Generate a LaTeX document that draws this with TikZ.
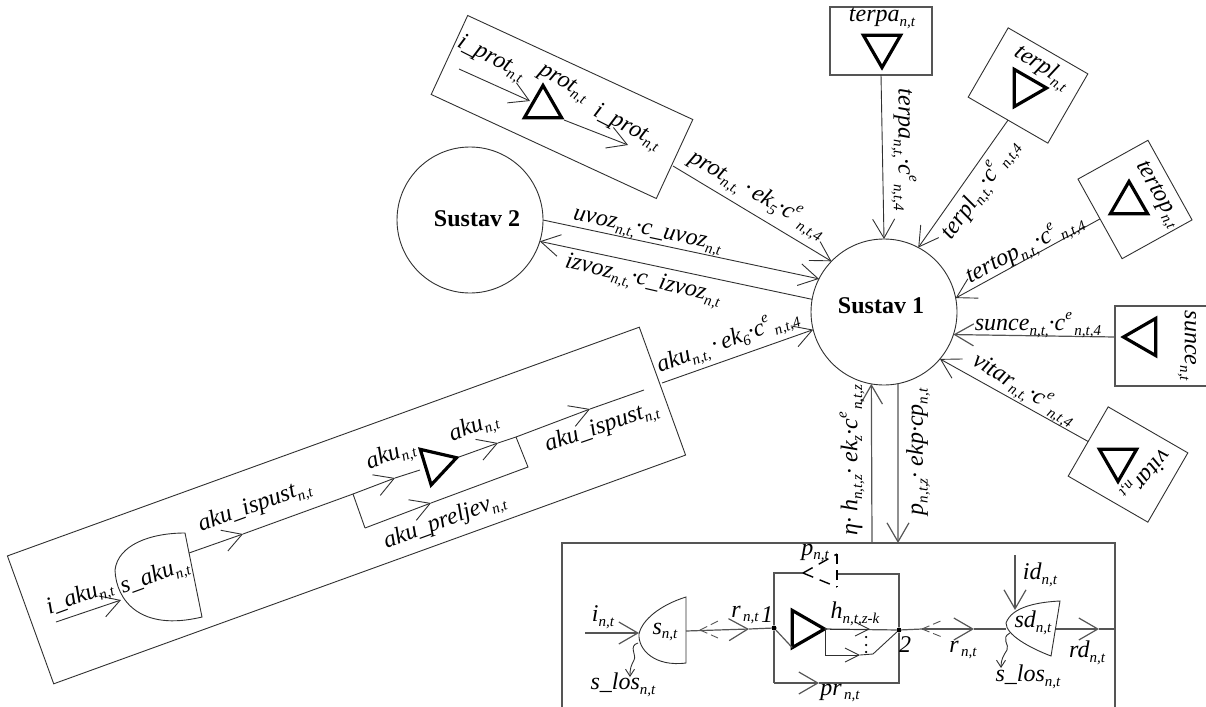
\documentclass[tikz,border=0pt]{standalone}
\usepackage{fontspec}
\setmainfont{Liberation Serif}
\usetikzlibrary{arrows.meta,shapes.geometric}
\newcommand{\sbfont}{\fontsize{15}{15}\selectfont}
\newcommand{\sbx}[1]{\raisebox{-.2em}{\sbfont #1}}
\newcommand{\spx}[1]{\raisebox{.45em}{\sbfont #1}}
\definecolor{ink}{HTML}{303030}
\definecolor{inkg}{HTML}{555555}
\tikzset{
  wire/.style={draw=ink,line width=0.9pt},
  gwire/.style={draw=inkg,line width=1.2pt},
  arr/.style={wire,-{Straight Barb[length=19pt,width=22pt]}},
  garr/.style={gwire,-{Straight Barb[length=19pt,width=22pt]}},
  marr/.style={wire,-{Straight Barb[length=14pt,width=14pt]}},
  sarr/.style={wire,-{Straight Barb[length=7pt,width=9pt]}},
  ddash/.style={draw=inkg,line width=0.9pt,dash pattern=on 8pt off 4pt},
  lab/.style={font=\fontsize{24}{26}\selectfont\itshape,inner sep=0pt,text=black},
  num/.style={font=\fontsize{24}{26}\selectfont\itshape,inner sep=0pt},
  big/.style={font=\fontsize{24}{26}\selectfont\bfseries,inner sep=0pt},
  tri/.style={regular polygon,regular polygon sides=3,draw=black,line width=3.2pt,minimum size=43pt,inner sep=0pt,outer sep=0pt},
  bx/.style={rectangle,draw=ink,line width=0.9pt,inner sep=0pt,outer sep=0pt},
  gbx/.style={rectangle,draw=inkg,line width=1.2pt,inner sep=0pt,outer sep=0pt},
  circ/.style={circle,draw=ink,line width=0.9pt,minimum size=146pt,inner sep=0pt,outer sep=0pt},
  dotn/.style={circle,fill=black,minimum size=5pt,inner sep=0pt},
}
\begin{document}
\begin{tikzpicture}[x=1pt,y=-1pt]
\useasboundingbox (0,0) rectangle (1206,706);
\clip (0,0) rectangle (1206,706);

% systems
\node[circ] (s1) at (884,312) {};
\node[circ] (s2) at (470,220) {};
\node[big] (s1t) at (881,306) {Sustav 1};
\node[big] (s2t) at (477,219) {Sustav 2};

% boxes
\node[bx,minimum width=248pt,minimum height=87pt,rotate=-24.8] (bprot) at (562,107) {};
\node[gbx,minimum width=102pt,minimum height=68pt] (bterpa) at (881,41) {};
\node[bx,minimum width=92pt,minimum height=80pt,rotate=-30] (bterpl) at (1028,85.5) {};
\node[bx,minimum width=80pt,minimum height=91pt,rotate=29] (btert) at (1135,199.5) {};
\node[gbx,minimum width=110pt,minimum height=80pt] (bsun) at (1170,346) {};
\node[bx,minimum width=92pt,minimum height=80pt,rotate=-30] (bvit) at (1128,464.5) {};
\node[bx,minimum width=672pt,minimum height=136pt,rotate=19.9] (baku) at (346.5,505.5) {};
\node[gbx,minimum width=553pt,minimum height=190pt] (bhe) at (838.5,638) {};

% triangles
\node[tri] (tprot) at (543,107) {};
\node[tri,rotate=180] (tterpa) at (882,46) {};
\node[tri,rotate=-90] (tterpl) at (1025,88) {};
\node[tri] (ttert) at (1129,203) {};
\node[tri,rotate=90] (tsun) at (1145,337) {};
\node[tri,rotate=180] (tvit) at (1118,460) {};
\node[tri,rotate=-73] (taku) at (436,464) {};
\node[tri,rotate=-90] (the) at (803,629) {};

% connectors to Sustav 1
\coordinate (pout) at (673,166);
\draw[arr] (pout) -- (s1.136);
\draw[arr] (bterpa.south) -- (s1.90);
\draw[arr] (bterpl.south) -- (s1.62);
\draw[arr] (btert.west) -- (s1.11);
\coordinate (sout) at (1115,337);
\draw[garr] (sout) -- (s1.-18.7);
\draw[arr] (bvit.west) -- (s1.-40.5);
\draw[arr] (s2.0) -- (s1.153);
\draw[arr] (s1.170.5) -- (s2.-17.4);
\coordinate (aout) at (662,383);
\draw[arr] (aout) -- (s1.194);
\coordinate (hup) at (872,543);
\coordinate (pdn) at (898,543);
\draw[garr] (hup) -- (s1.260.5);
\draw[garr] (s1.281) -- (pdn);

% connector labels
\node[lab,rotate=-30] (lprot) at (757,195) {prot\sbx{n,t,}\,·\,ek\sbx{5}·c\spx{e}\sbx{\,n,t,4}};
\node[lab,rotate=-90] (lterpa) at (904,150) {terpa\sbx{n,t,}·c\spx{e}\sbx{\,n,t,4}};
\node[lab,rotate=55] (lterpl) at (981,190) {terpl\sbx{n,t,}·c\spx{e}\sbx{\,n,t,4}};
\node[lab,rotate=27] (ltert) at (1025,249) {tertop\sbx{n,t,}·c\spx{e}\sbx{\,n,t,4}};
\node[lab] (lsun) at (1038,325) {sunce\sbx{n,t,}·c\spx{e}\sbx{\,n,t,4}};
\node[lab,rotate=-31] (lvit) at (1024,390) {vitar\sbx{n,t,}·c\spx{e}\sbx{\,n,t,4}};
\node[lab,rotate=-12] (luv) at (647,233) {uvoz\sbx{n,t,}·c\_uvoz\sbx{n,t}};
\node[lab,rotate=-13] (liz) at (643,281) {izvoz\sbx{n,t,}·c\_izvoz\sbx{n,t}};
\node[lab,rotate=20] (lak) at (728,342) {aku\sbx{n,t,}\,·\,ek\sbx{6}·c\spx{e}\sbx{\,n,t,4}};
\node[lab,rotate=90] (leta) at (852,460) {η· h\sbx{n,t,z}· ek\sbx{z}·c\spx{e}\sbx{\,n,t,z}};
\node[lab,rotate=90] (lpz) at (918,452) {p\sbx{n,t,z}· ekp·cp\sbx{n,t}};

% texts in boxes
\node[lab,rotate=-27] (a1) at (491,59) {i\_prot\sbx{n,t}};
\node[lab,rotate=-30] (a2) at (563,84) {prot\sbx{n,t}};
\node[lab,rotate=-27] (a3) at (627,128) {i\_prot\sbx{n,t}};
\node[lab] (a4) at (882,18) {terpa\sbx{n,t}};
\node[lab,rotate=-33] (a5) at (1042,68) {terpl\sbx{n,t}};
\node[lab,rotate=-60] (a6) at (1157,195) {tertop\sbx{n,t}};
\node[lab,rotate=-90] (a7) at (1187,346) {sunce\sbx{n,t}};
\node[lab,rotate=230] (a8) at (1145,474) {vitar\sbx{n,t}};

% prot flows
\coordinate (pin) at (459,69);
\coordinate (pinT) at (530,101);
\coordinate (poutA) at (564,120);
\coordinate (poutT) at (628,145);
\draw[arr] (pin) -- (pinT);
\draw[arr] (poutA) -- (poutT);

% aku block
\coordinate (ai) at (56,622);
\coordinate (aiT) at (121,600);
\draw[arr] (ai) -- (aiT);
\draw[wire] (185,533) .. controls (150,533) and (118,545) .. (115,570) .. controls (116,600) and (140,632) .. (202,617) -- cycle;
\coordinate (aS) at (189,553);
\coordinate (aM1) at (243,534);
\coordinate (aJ) at (353,494);
\coordinate (aM2) at (395,478);
\coordinate (aTi) at (420,470);
\coordinate (aTo) at (459,457);
\coordinate (aM3) at (498,443);
\coordinate (aK) at (516,437);
\coordinate (aM4) at (590,409);
\coordinate (aEnd) at (644,390);
\coordinate (aB1) at (365,528);
\coordinate (aM5) at (431,503);
\coordinate (aB2) at (528,467);
\draw[arr] (aS) -- (aM1);
\draw[wire] (aM1) -- (aJ);
\draw[arr] (aJ) -- (aM2);
\draw[wire] (aM2) -- (aTi);
\draw[arr] (aTo) -- (aM3);
\draw[wire] (aM3) -- (aK);
\draw[arr] (aK) -- (aM4);
\draw[wire] (aM4) -- (aEnd);
\draw[wire] (aJ) -- (aB1);
\draw[arr] (aB1) -- (aM5);
\draw[wire] (aM5) -- (aB2) -- (aK);
\node[lab,rotate=20] (b1) at (80,598) {i\_aku\sbx{n,t}};
\node[lab,rotate=20] (b2) at (155,577) {s\_aku\sbx{n,t}};
\node[lab,rotate=20] (b3) at (255,507) {aku\_ispust\sbx{n,t}};
\node[lab,rotate=20] (b4) at (391,456) {aku\sbx{n,t}};
\node[lab,rotate=20] (b5) at (474,428) {aku\sbx{n,t}};
\node[lab,rotate=20] (b6) at (445,522) {aku\_preljev\sbx{n,t}};
\node[lab,rotate=19] (b7) at (602,428) {aku\_ispust\sbx{n,t}};

% hydro block
\coordinate (iin) at (585,633);
\coordinate (iT) at (639,633);
\draw[garr] (iin) -- (iT);
\draw[wire] (686,597) .. controls (660,605) and (642,620) .. (639,634) .. controls (638,650) and (655,667) .. (686,663) -- cycle;
\coordinate (sR) at (686,631);
\coordinate (rT) at (749,629);
\node[dotn] (d1) at (774,628) {};
\node[dotn] (d2) at (899,630) {};
\draw[garr] (sR) -- (rT);
\draw[gwire] (rT) -- (d1);
\draw[gwire] (d1) -- (the.corner 3);
\draw[gwire] (the.corner 1) -- (d2);
\coordinate (rT2) at (974,629);
\coordinate (sdL) at (1006,629);
\draw[gwire] (d2) -- (922,629);
\draw[garr] (922,629) -- (rT2);
\draw[gwire] (rT2) -- (sdL);
\coordinate (sdR) at (1056,629);
\coordinate (rdT) at (1099,629);
\coordinate (rdE) at (1114,629);
\draw[garr] (sdR) -- (rdT);
\draw[gwire] (rdT) -- (rdE);
% dashed reverse tips
\coordinate (dt1) at (700,630);
\draw[ddash] (dt1) -- (718,621);
\draw[ddash] (dt1) -- (718,638);
\coordinate (dt2) at (922,629);
\draw[ddash] (dt2) -- (943,620);
\draw[ddash] (dt2) -- (942,637);
% loop
\coordinate (lA) at (774,573);
\coordinate (lB) at (803,573);
\coordinate (lC) at (837,574);
\coordinate (lD) at (899,574);
\coordinate (lE) at (899,683);
\coordinate (lF) at (774,683);
\coordinate (lM) at (819,683);
\draw[gwire] (d1) -- (lA) -- (lB);
\draw[gwire] (lC) -- (lD) -- (d2) -- (lE) -- (lM);
\draw[gwire] (d1) -- (lF);
\draw[garr] (lF) -- (lM);
% dashed pump triangle
\coordinate (pa) at (803,573);
\coordinate (pb) at (837,554);
\coordinate (pc) at (837,587);
\draw[draw=black,line width=1.4pt,dash pattern=on 11pt off 7pt] (pa) -- (pc);
\draw[draw=black,line width=1.4pt,dash pattern=on 11pt off 7pt] (pa) -- (pb);
\draw[draw=black,line width=1.6pt,dash pattern=on 10pt off 6pt] (pb) -- (pc);
% branch
\coordinate (b0) at (825,629);
\coordinate (bb) at (825,655);
\coordinate (bm) at (860,655);
\coordinate (bn) at (873,654);
\draw[wire] (b0) -- (bb);
\draw[marr] (bb) -- (bm);
\draw[wire] (bm) -- (bn) -- (d2);
\coordinate (hT) at (870,629);
\draw[marr] (830,629) -- (hT);
\node[circle,fill=black,minimum size=2.5pt,inner sep=0pt] (dd1) at (866,637) {};
\node[circle,fill=black,minimum size=2.5pt,inner sep=0pt] (dd2) at (866,645) {};
\node[circle,fill=black,minimum size=2.5pt,inner sep=0pt] (dd3) at (866,652) {};
% sd reservoir
\draw[wire] (1060,601) .. controls (1040,602) and (1012,606) .. (1006,623) .. controls (1006,635) and (1030,648) .. (1051,656) -- cycle;
\coordinate (idT) at (1015,555);
\coordinate (idB) at (1015,610);
\draw[garr] (idT) -- (idB);
% losses
\draw[sarr] (638,643) .. controls (628,646) and (637,655) .. (634,660) .. controls (631,666) and (630,668) .. (630,677);
\draw[sarr] (1010,633) .. controls (1000,638) and (1010,645) .. (1007,650) .. controls (1003,656) and (1001,660) .. (1001,668);
% hydro labels
\node[lab] (c1) at (603,617) {i\sbx{n,t}};
\node[lab] (c2) at (665,632) {s\sbx{n,t}};
\node[lab] (c3) at (623,685) {s\_los\sbx{n,t}};
\node[lab] (c4) at (745,615) {r\sbx{\,n,t}};
\node[num] (c5) at (767,615) {1};
\node[num] (c6) at (905,645) {2};
\node[lab] (c7) at (855,614) {h\sbx{n,t,z-k}};
\node[lab] (c8) at (840,693) {pr\sbx{\,n,t}};
\node[lab] (c9) at (815,553) {p\sbx{n,t}};
\node[lab] (c10) at (963,650) {r\sbx{\,n,t}};
\node[lab] (c11) at (1033,623) {sd\sbx{n,t}};
\node[lab] (c12) at (1040,575) {id\sbx{n,t}};
\node[lab] (c13) at (1028,677) {s\_los\sbx{n,t}};
\node[lab] (c14) at (1087,653) {rd\sbx{n,t}};
\end{tikzpicture}
\end{document}
